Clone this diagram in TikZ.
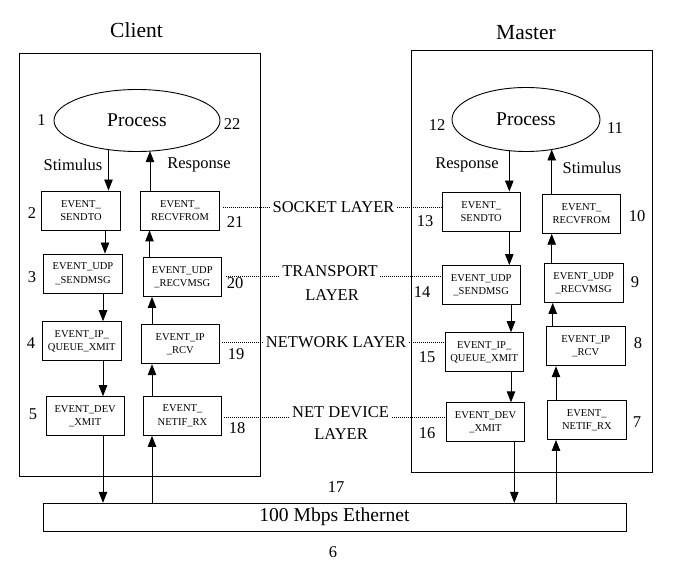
\documentclass[tikz,border=0pt]{standalone}
\usepackage{fontspec}
\setmainfont{Liberation Serif}
\usetikzlibrary{arrows.meta,shapes.geometric}
\begin{document}
\begin{tikzpicture}[x=1pt,y=-1pt,
  evbox/.style={draw, line width=0.9pt, minimum width=78.5pt, minimum height=39pt,
    inner sep=0pt, align=center, font=\fontsize{10.5}{13.5}\selectfont},
  frame/.style={draw, line width=0.9pt, inner sep=0pt},
  title/.style={font=\fontsize{21.5}{24}\selectfont, inner sep=0pt},
  proc/.style={draw, ellipse, line width=0.9pt, inner sep=0pt, font=\fontsize{19.5}{22}\selectfont},
  lbl/.style={font=\fontsize{16.5}{19}\selectfont, inner sep=0pt},
  layer/.style={font=\fontsize{16.5}{19}\selectfont, inner sep=2.5pt},
  arr/.style={-{Triangle[length=11pt,width=8.5pt]}, line width=0.9pt},
  dotline/.style={line width=0.7pt, dash pattern=on 0.8pt off 1.2pt}
]
\useasboundingbox (0,0) rectangle (675,577);

% titles
\node[title] (tclient) at (136.5,30) {Client};
\node[title] (tmaster) at (526,33) {Master};

% outer frames
\node[frame, minimum width=241pt, minimum height=423pt] (cframe) at (139.5,264.5) {};
\node[frame, minimum width=241pt, minimum height=422pt] (mframe) at (531.5,261.7) {};
\node[frame, minimum width=583pt, minimum height=27.7pt, font=\fontsize{19.6}{22}\selectfont] (eth) at (334.5,517.2) {100 Mbps Ethernet};

% processes
\node[proc, minimum width=166pt, minimum height=62pt] (p1) at (137,120.5) {Process};
\node[proc, minimum width=148pt, minimum height=64pt] (p2) at (526,119.5) {Process};

% client boxes
\node[evbox] (c2)  at (81,210.5)   {EVENT\_\\SENDTO};
\node[evbox] (c21) at (180,210.5)  {EVENT\_\\RECVFROM};
\node[evbox] (c3)  at (83,273.5)   {EVENT\_UDP\\\_SENDMSG};
\node[evbox] (c20) at (182.3,277)  {EVENT\_UDP\\\_RECVMSG};
\node[evbox] (c4)  at (81.8,341.2) {EVENT\_IP\_\\QUEUE\_XMIT};
\node[evbox] (c19) at (180.2,344.2){EVENT\_IP\\\_RCV};
\node[evbox] (c5)  at (85.2,416.2) {EVENT\_DEV\\\_XMIT};
\node[evbox] (c18) at (182.5,415.9){EVENT\_\\NETIF\_RX};

% master boxes
\node[evbox] (m13) at (481.2,211.5) {EVENT\_\\SENDTO};
\node[evbox] (m10) at (581.5,213.8) {EVENT\_\\RECVFROM};
\node[evbox] (m14) at (481.2,285)   {EVENT\_UDP\\\_SENDMSG};
\node[evbox] (m9)  at (583.7,283)   {EVENT\_UDP\\\_RECVMSG};
\node[evbox] (m15) at (484.2,352.2) {EVENT\_IP\_\\QUEUE\_XMIT};
\node[evbox] (m8)  at (585.8,346.3) {EVENT\_IP\\\_RCV};
\node[evbox] (m16) at (485.5,422.3) {EVENT\_DEV\\\_XMIT};
\node[evbox] (m7)  at (586.8,420)   {EVENT\_\\NETIF\_RX};

% numbers
\node[lbl] (n1)  at (41.5,120) {1};
\node[lbl] (n22) at (232,124)  {22};
\node[lbl] (n2)  at (32,213)   {2};
\node[lbl] (n21) at (235,222)  {21};
\node[lbl] (n3)  at (32,277)   {3};
\node[lbl] (n20) at (235,283)  {20};
\node[lbl] (n4)  at (31,343)   {4};
\node[lbl] (n19) at (236,354)  {19};
\node[lbl] (n5)  at (33,414)   {5};
\node[lbl] (n18) at (237,428)  {18};
\node[lbl] (n12) at (437,125)  {12};
\node[lbl] (n11) at (615,128)  {11};
\node[lbl] (n13) at (425,221)  {13};
\node[lbl] (n10) at (637,216)  {10};
\node[lbl] (n14) at (422,292)  {14};
\node[lbl] (n9)  at (635,282)  {9};
\node[lbl] (n15) at (427,357)  {15};
\node[lbl] (n8)  at (638,343)  {8};
\node[lbl] (n16) at (427,433)  {16};
\node[lbl] (n7)  at (637,422)  {7};
\node[lbl] (n17) at (336,487)  {17};
\node[lbl] (n6)  at (333,552)  {6};

% stimulus / response
\node[lbl] (cst) at (73,165)  {Stimulus};
\node[lbl] (crs) at (199,165) {Response};
\node[lbl] (mrs) at (467,165) {Response};
\node[lbl] (mst) at (592,168) {Stimulus};

% layer labels
\node[layer] (sock)  at (333.5,207) {SOCKET LAYER};
\node[layer] (trans) at (330,271)   {TRANSPORT};
\node[layer] (trans2) at (332,295)  {LAYER};
\node[layer] (netw)  at (336,342)   {NETWORK LAYER};
\node[layer] (netd)  at (340.5,412) {NET DEVICE};
\node[layer] (netd2) at (341,434)   {LAYER};

% dotted leaders
\draw[dotline, shorten <=3pt] (c21.east |- sock) -- (sock.west);
\draw[dotline] (sock.east) -- (sock.east -| m13.west);
\draw[dotline, shorten <=4pt] (c20.east |- trans.base) -- (trans.base west);
\draw[dotline] (trans.base east) -- (trans.base east -| m14.west);
\draw[dotline, shorten <=2pt] (c19.east |- netw) -- (netw.west);
\draw[dotline] (netw.east) -- (netw.east -| m15.west);
\draw[dotline, shorten <=1.5pt] (c18.east |- netd.base) -- (netd.base west);
\draw[dotline] (netd.base east) -- (netd.base east -| m16.west);

% arrow positions
\coordinate (ce1) at (108.5,149.6);
\coordinate (ce2) at (150,151.1);
\coordinate (xa) at (105,0);
\coordinate (xb) at (103,0);
\coordinate (xc) at (152,0);
\coordinate (xd) at (149.5,0);
\coordinate (me1) at (509.3,150.7);
\coordinate (me2) at (551.7,149.5);
\coordinate (xe) at (509.3,0);
\coordinate (xf) at (511,0);
\coordinate (xg) at (514.3,0);
\coordinate (xh) at (556,0);
\coordinate (xi) at (552.7,0);
\coordinate (xj) at (551.7,0);

% client arrows
\draw[arr] (ce1) -- (c2.north -| ce1);
\draw[arr] (c2.south -| xa) -- (c3.north -| xa);
\draw[arr] (c3.south -| xb) -- (c4.north -| xb);
\draw[arr] (c4.south -| xb) -- (c5.north -| xb);
\draw[arr] (c5.south -| xb) -- (eth.north -| xb);
\draw[arr] (eth.north -| xc) -- (c18.south -| xc);
\draw[arr] (c18.north -| xc) -- (c19.south -| xc);
\draw[arr] (c19.north -| xc) -- (c20.south -| xc);
\draw[arr] (c20.north -| xd) -- (c21.south -| xd);
\draw[arr] (c21.north -| ce2) -- (ce2);

% master arrows
\draw[arr] (me1) -- (m13.north -| me1);
\draw[arr] (m13.south -| xe) -- (m14.north -| xe);
\draw[arr] (m14.south -| xf) -- (m15.north -| xf);
\draw[arr] (m15.south -| xf) -- (m16.north -| xf);
\draw[arr] (m16.south -| xg) -- (eth.north -| xg);
\draw[arr] (eth.north -| xh) -- (m7.south -| xh);
\draw[arr] (m7.north -| xh) -- (m8.south -| xh);
\draw[arr] (m8.north -| xi) -- (m9.south -| xi);
\draw[arr] (m9.north -| xj) -- (m10.south -| xj);
\draw[arr] (m10.north -| me2) -- (me2);
\end{tikzpicture}
\end{document}
